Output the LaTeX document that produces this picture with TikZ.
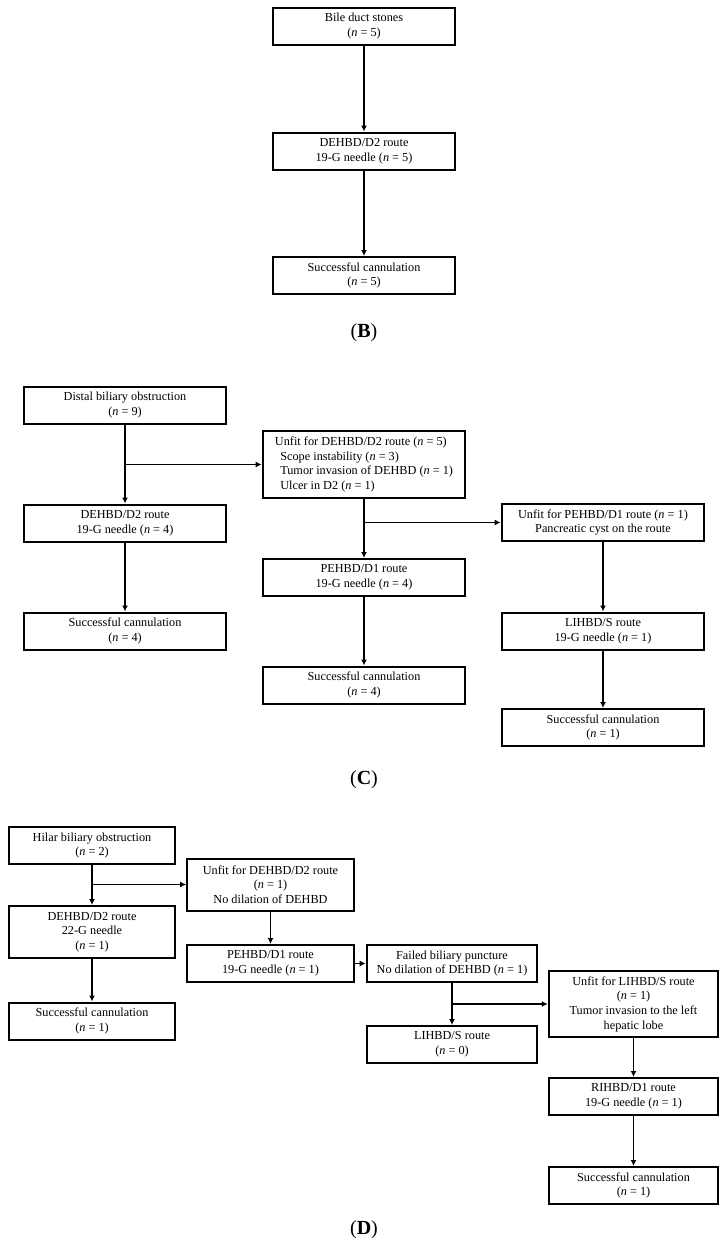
\documentclass[tikz,border=0pt]{standalone}
\usepackage{fontspec}
\setmainfont{Liberation Serif}
\usetikzlibrary{arrows.meta}

\newcommand{\nn}[1]{(\textit{n} = #1)}

\tikzset{
    box/.style={draw, line width=1.5pt, align=center, inner sep=2pt,
        font=\fontsize{9.2}{11}\selectfont},
    boxB/.style={box, minimum width=137pt, minimum height=27.75pt},
    boxC/.style={box, minimum width=152pt, minimum height=27.75pt},
    boxD/.style={box, minimum width=125pt, minimum height=27.75pt},
    arr/.style={line width=1.3pt, -{Latex[length=4.5pt,width=4.5pt]}},
    tag/.style={font=\fontsize{15}{17}\selectfont}
}

\begin{document}
\begin{tikzpicture}[x=0.75pt, y=-0.75pt]
    \useasboundingbox (0,0) rectangle (727,1247);

    % (B) bile duct stones
    \node [boxB] (bile) at (364,26) {Bile duct stones\\ \nn{5}};
    \node [boxB] (dehbdB) at (364,151) {DEHBD/D2 route\\ 19-G needle \nn{5}};
    \node [boxB] (succB) at (364,275.5) {Successful cannulation\\ \nn{5}};
    \node [tag] (labB) at (364,333) {(\textbf{B})};

    \draw [arr] (bile) -- (dehbdB);
    \draw [arr] (dehbdB) -- (succB);

    % (C) distal biliary obstruction
    \node [boxC] (distal) at (125,405) {Distal biliary obstruction\\ \nn{9}};
    \node [boxC, minimum height=50pt, align=left] (unfitD2) at (364,464.5)
        {Unfit for DEHBD/D2 route \nn{5}\\
         \hspace*{4pt}Scope instability \nn{3}\\
         \hspace*{4pt}Tumor invasion of DEHBD \nn{1}\\
         \hspace*{4pt}Ulcer in D2 \nn{1}};
    \node [boxC] (dehbdC) at (125,523) {DEHBD/D2 route\\ 19-G needle \nn{4}};
    \node [boxC] (unfitD1) at (603,522.5) {Unfit for PEHBD/D1 route \nn{1}\\ Pancreatic cyst on the route};
    \node [boxC] (pehbdC) at (364,577.5) {PEHBD/D1 route\\ 19-G needle \nn{4}};
    \node [boxC] (succC1) at (125,631) {Successful cannulation\\ \nn{4}};
    \node [boxC] (lihbdC) at (603,631) {LIHBD/S route\\ 19-G needle \nn{1}};
    \node [boxC] (succC2) at (364,685) {Successful cannulation\\ \nn{4}};
    \node [boxC] (succC3) at (603,727.5) {Successful cannulation\\ \nn{1}};
    \node [tag] (labC) at (364,780) {(\textbf{C})};

    \draw [arr] (distal) -- (dehbdC);
    \draw [arr] (distal.south |- unfitD2.west) -- (unfitD2.west);
    \draw [arr] (dehbdC) -- (succC1);
    \draw [arr] (unfitD2) -- (pehbdC);
    \draw [arr] (unfitD2.south |- unfitD1.west) -- (unfitD1.west);
    \draw [arr] (pehbdC) -- (succC2);
    \draw [arr] (unfitD1) -- (lihbdC);
    \draw [arr] (lihbdC) -- (succC3);

    % (D) hilar biliary obstruction
    \node [boxD] (hilar) at (92,845.5) {Hilar biliary obstruction\\ \nn{2}};
    \node [boxD, minimum height=39pt] (unfitH) at (270.5,884.5)
        {Unfit for DEHBD/D2 route\\ \nn{1}\\ No dilation of DEHBD};
    \node [boxD, minimum height=39pt] (dehbdD) at (92,932) {DEHBD/D2 route\\ 22-G needle\\ \nn{1}};
    \node [boxD] (pehbdD) at (270.5,963.5) {PEHBD/D1 route\\ 19-G needle \nn{1}};
    \node [boxD, minimum width=128pt] (failed) at (452,963.5) {Failed biliary puncture\\ No dilation of DEHBD \nn{1}};
    \node [boxD] (succD1) at (92,1021) {Successful cannulation\\ \nn{1}};
    \node [boxD, minimum width=127pt, minimum height=49.5pt] (unfitS) at (633.5,1004)
        {Unfit for LIHBD/S route\\ \nn{1}\\ Tumor invasion to the left\\ hepatic lobe};
    \node [boxD, minimum width=128pt] (lihbdD) at (452,1044.5) {LIHBD/S route\\ \nn{0}};
    \node [boxD, minimum width=127pt] (rihbd) at (633.5,1096.5) {RIHBD/D1 route\\ 19-G needle \nn{1}};
    \node [boxD, minimum width=127pt] (succD2) at (633.5,1185.5) {Successful cannulation\\ \nn{1}};
    \node [tag] (labD) at (364,1230) {(\textbf{D})};

    \draw [arr] (hilar) -- (dehbdD);
    \draw [arr] (hilar.south |- unfitH.west) -- (unfitH.west);
    \draw [arr] (dehbdD) -- (succD1);
    \draw [arr] (unfitH) -- (pehbdD);
    \draw [arr] (pehbdD) -- (failed);
    \draw [arr] (failed) -- (lihbdD);
    \draw [arr] (failed.south |- unfitS.west) -- (unfitS.west);
    \draw [arr] (unfitS) -- (rihbd);
    \draw [arr] (rihbd) -- (succD2);
\end{tikzpicture}
\end{document}
